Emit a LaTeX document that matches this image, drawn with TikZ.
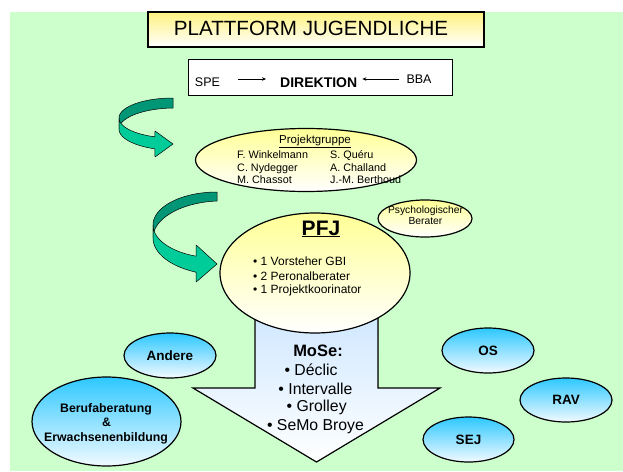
\documentclass[tikz,border=0pt]{standalone}
\usepackage{fontspec}
\setmainfont{Liberation Sans}
\usetikzlibrary{shapes.geometric,arrows.meta}
\definecolor{bggreen}{RGB}{204,255,204}
\definecolor{paleyellow}{RGB}{255,255,150}
\definecolor{titleyellow}{RGB}{255,242,128}
\definecolor{skyblue}{RGB}{45,200,255}
\definecolor{iceblue}{RGB}{242,250,255}
\definecolor{arrowblue}{RGB}{200,228,255}
\definecolor{tealdark}{RGB}{0,150,118}
\definecolor{tealbright}{RGB}{0,204,153}
\newcommand\fsz[2]{\fontsize{#1}{#2}\selectfont}
\begin{document}
\begin{tikzpicture}[x=1pt,y=-1pt,
  txt/.style={anchor=base, inner sep=0pt},
  yellowell/.style={ellipse, draw=black, line width=1.2pt, top color=paleyellow, bottom color=white, inner sep=0pt},
  blueell/.style={ellipse, draw=black, line width=1.2pt, top color=skyblue, bottom color=iceblue, inner sep=0pt, font=\bfseries\fsz{13.5}{16}},
  ribbonback/.style={fill=tealdark, draw=black, line width=0.5pt, line join=round},
  ribbonfront/.style={fill=tealbright, draw=black, line width=0.5pt, line join=round},
  flow/.style={-{Stealth[length=4pt,width=3.5pt]}, line width=0.6pt}
]
\useasboundingbox (0,0) rectangle (623,471);
% page background
\fill[bggreen] (10,12) rectangle (623,471);

% title bar
\node[draw=black, line width=1.4pt, top color=titleyellow, bottom color=white,
      minimum width=336pt, minimum height=35pt, inner sep=0pt] (titlebox) at (316,29.5) {};
\node[txt, font=\fsz{20.6}{24}] (titletext) at (311,35.5) {PLATTFORM JUGENDLICHE};

% direction box
\node[draw=black, fill=white, line width=0.8pt, minimum width=264pt, minimum height=36pt, inner sep=0pt] (dirbox) at (320,77) {};
\node[txt, font=\fsz{12.5}{14}] (spe) at (207.5,86) {SPE};
\node[txt, font=\bfseries\fsz{14}{16}] (dir) at (318.7,87) {DIREKTION};
\node[txt, font=\fsz{12.5}{14}] (bba) at (419,83.5) {BBA};
\draw[flow, shorten <=18pt, shorten >=14pt] (spe.east |- 0,79) -- (dir.west |- 0,79);
\draw[flow, shorten <=7pt, shorten >=5pt] (bba.west |- 0,79) -- (dir.east |- 0,79);

% upper curved ribbon arrow
\filldraw[ribbonback]
  plot[domain=90:180, samples=40] ({173+54*cos(\x)},{118-20*sin(\x)})
  -- plot[domain=180:90, samples=40] ({173+54*cos(\x)},{118-20*sin(\x)+10+2*(\x-90)/160.5})
  -- cycle;
\filldraw[ribbonfront]
  plot[domain=180:250.5, samples=40] ({173+54*cos(\x)},{118-20*sin(\x)})
  -- (155,131) -- (173,144) -- (155,157)
  -- plot[domain=250.5:180, samples=40] ({173+54*cos(\x)},{118-20*sin(\x)+10+2*(\x-90)/160.5})
  -- cycle;

% project group
\node[yellowell, minimum width=221pt, minimum height=63pt] (projgrp) at (306,160) {};
\node[txt, font=\fsz{11.5}{13}] (projtitle) at (315,143) {\underline{Projektgruppe}};
\node[txt, anchor=base west, font=\fsz{10.8}{12.5}] (n1) at (237,158) {F. Winkelmann};
\node[txt, anchor=base west, font=\fsz{10.8}{12.5}] (n2) at (237,171) {C. Nydegger};
\node[txt, anchor=base west, font=\fsz{10.8}{12.5}] (n3) at (237,183) {M. Chassot};
\node[txt, anchor=base west, font=\fsz{10.8}{12.5}] (n4) at (330,158) {S. Quéru};
\node[txt, anchor=base west, font=\fsz{10.8}{12.5}] (n5) at (330,171) {A. Challand};
\node[txt, anchor=base west, font=\fsz{10.8}{12.5}] (n6) at (330,183) {J.-M. Berthoud};

% lower curved ribbon arrow
\filldraw[ribbonback]
  plot[domain=90:180, samples=40] ({217+64*cos(\x)},{225-33*sin(\x)})
  -- plot[domain=180:90, samples=40] ({217+64*cos(\x)},{225-33*sin(\x)+9+7*(\x-90)/161})
  -- cycle;
\filldraw[ribbonfront]
  plot[domain=180:251, samples=40] ({217+64*cos(\x)},{225-33*sin(\x)})
  -- (196.2,245) -- (217,264) -- (196.2,282)
  -- plot[domain=251:180, samples=40] ({217+64*cos(\x)},{225-33*sin(\x)+9+7*(\x-90)/161})
  -- cycle;

% block arrow down to the measures
\filldraw[draw=black, line width=1.2pt, top color=arrowblue, bottom color=white]
  (255,290) -- (255,388) -- (193,388) -- (316.5,462) -- (440,388) -- (378,388) -- (378,290) -- cycle;
\node[txt, font=\bfseries\fsz{16.5}{19}] (mose) at (318,356.7) {MoSe:};
\node[txt, font=\fsz{15.8}{18}] (m1) at (311,375) {• Déclic};
\node[txt, font=\fsz{15.8}{18}] (m2) at (315.5,394) {• Intervalle};
\node[txt, font=\fsz{15.8}{18}] (m3) at (316.7,411.7) {• Grolley};
\node[txt, font=\fsz{15.8}{18}] (m4) at (315.5,430) {• SeMo Broye};

% PFJ core
\node[yellowell, minimum width=190pt, minimum height=120pt] (pfj) at (315,273) {};
\node[txt, font=\bfseries\fsz{21}{24}] (pfjtitle) at (321,235) {\underline{PFJ}};
\node[txt, anchor=base west, font=\fsz{12}{14}] (b1) at (253,265) {• 1 Vorsteher GBI};
\node[txt, anchor=base west, font=\fsz{12}{14}] (b2) at (253,280) {• 2 Peronalberater};
\node[txt, anchor=base west, font=\fsz{12}{14}] (b3) at (253,293.3) {• 1 Projektkoorinator};

% psychological adviser
\node[yellowell, minimum width=94pt, minimum height=37pt] (psych) at (425,218.5) {};
\node[txt, font=\fsz{10.3}{12}] (psych1) at (425.5,213) {Psychologischer};
\node[txt, font=\fsz{10.3}{12}] (psych2) at (425.5,224.5) {Berater};

% partner organisations
\node[blueell, minimum width=92pt, minimum height=45pt] (andere) at (170,355.5) {Andere};
\node[blueell, minimum width=92pt, minimum height=45pt] (os) at (488,350.5) {OS};
\node[blueell, minimum width=92pt, minimum height=44pt] (rav) at (566,400) {RAV};
\node[blueell, minimum width=91pt, minimum height=45pt] (sej) at (468.5,439.5) {SEJ};
\node[blueell, minimum width=149pt, minimum height=89pt] (beruf) at (106.5,421.5) {};
\node[txt, font=\bfseries\fsz{12.3}{14}] (beruf1) at (106,412.7) {Berufaberatung};
\node[txt, font=\bfseries\fsz{12.3}{14}] (beruf2) at (106.5,426) {\&};
\node[txt, font=\bfseries\fsz{12.3}{14}] (beruf3) at (106,441.7) {Erwachsenenbildung};
\end{tikzpicture}
\end{document}
